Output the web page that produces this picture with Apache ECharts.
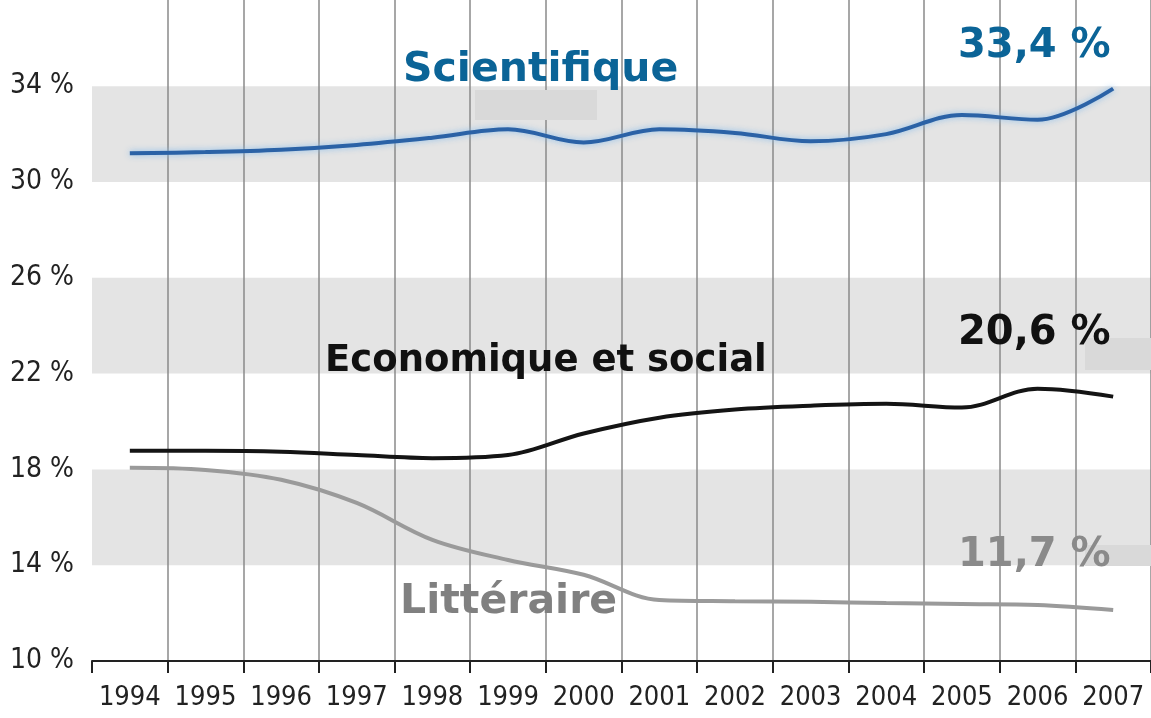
<!DOCTYPE html>
<html><head><meta charset="utf-8">
<script src="https://cdn.jsdelivr.net/npm/echarts@6/dist/echarts.min.js"></script>
<style>html,body{margin:0;padding:0;background:#fff}#c{width:1151px;height:718px}</style>
</head><body><div id="c"></div>
<script>
const years = ['1994','1995','1996','1997','1998','1999','2000','2001','2002','2003','2004','2005','2006','2007'];
const scientifique = [31.2,31.25,31.35,31.55,31.85,32.2,31.65,32.2,32.05,31.7,32.0,32.8,32.6,33.9];
const economique = [18.78,18.78,18.74,18.6,18.47,18.6,19.5,20.16,20.5,20.66,20.74,20.58,21.37,21.04];
const litteraire = [18.07,17.98,17.57,16.6,15.06,14.22,13.6,12.55,12.5,12.47,12.42,12.38,12.34,12.13];
const yTicks = [10,14,18,22,26,30,34];
const labels = {sci:'Scientifique', sciEnd:'33,4 %', eco:'Economique et social', ecoEnd:'20,6 %', lit:'Littéraire', litEnd:'11,7 %'};

const chart = echarts.init(document.getElementById('c'), null, {renderer:'canvas'});
const narrow = "'Liberation Sans Narrow','DejaVu Sans Condensed',sans-serif";
const bold = "'DejaVu Sans',Verdana,sans-serif";
chart.setOption({
  animation:false,
  backgroundColor:'#fff',
  grid:{left:92, top:0, width:1074, height:661},
  xAxis:{
    type:'category', data:years, boundaryGap:true,
    axisLine:{lineStyle:{color:'#222', width:2}},
    axisTick:{show:true, interval:0, length:12, lineStyle:{color:'#222', width:2}},
    axisLabel:{interval:0, fontFamily:narrow, fontSize:27, color:'#222', margin:23},
    splitLine:{show:true, interval:0, showMinLine:false, lineStyle:{color:'#8a8a8a', width:1.5}}
  },
  yAxis:{
    type:'value', min:10, max:37.6, interval:4,
    axisLine:{show:false}, axisTick:{show:false}, splitLine:{show:false},
    splitArea:{show:true, areaStyle:{color:['rgba(0,0,0,0)','#e4e4e4']}},
    axisLabel:{fontFamily:narrow, fontSize:28, color:'#222', margin:18,
      formatter:v => yTicks.indexOf(v) >= 0 ? v + ' %' : ''}
  },
  series:[
    {type:'line', name:labels.sci, data:scientifique, smooth:0.35, symbol:'none',
     lineStyle:{color:'#2b62a6', width:4, shadowColor:'rgba(130,185,235,0.9)', shadowBlur:6}},
    {type:'line', name:labels.eco, data:economique, smooth:0.35, symbol:'none',
     lineStyle:{color:'#141414', width:4}},
    {type:'line', name:labels.lit, data:litteraire, smooth:0.35, symbol:'none',
     lineStyle:{color:'#9a9a9a', width:4}}
  ],
  graphic:[
    {type:'rect', shape:{x:475,y:90,width:122,height:30}, style:{fill:'#d9d9d9'}, z:5},
    {type:'rect', shape:{x:1085,y:338,width:66,height:32}, style:{fill:'#d9d9d9'}, z:5},
    {type:'rect', shape:{x:1085,y:545,width:66,height:21}, style:{fill:'#d9d9d9'}, z:5},
    {type:'text', left:403, top:50, z:10, style:{text:labels.sci, font:'bold 41px '+bold, fill:'#0b6497'}},
    {type:'text', left:958, top:27, z:10, style:{text:labels.sciEnd, font:'bold 40px '+bold, fill:'#0b6497'}},
    {type:'text', left:325, top:343, z:10, style:{text:labels.eco, font:'bold 37px '+bold, fill:'#111'}},
    {type:'text', left:958, top:314, z:10, style:{text:labels.ecoEnd, font:'bold 40px '+bold, fill:'#111'}},
    {type:'text', left:400, top:582, z:10, style:{text:labels.lit, font:'bold 41px '+bold, fill:'#808080'}},
    {type:'text', left:958, top:536, z:10, style:{text:labels.litEnd, font:'bold 40px '+bold, fill:'#8a8a8a'}}
  ]
});
</script></body></html>
